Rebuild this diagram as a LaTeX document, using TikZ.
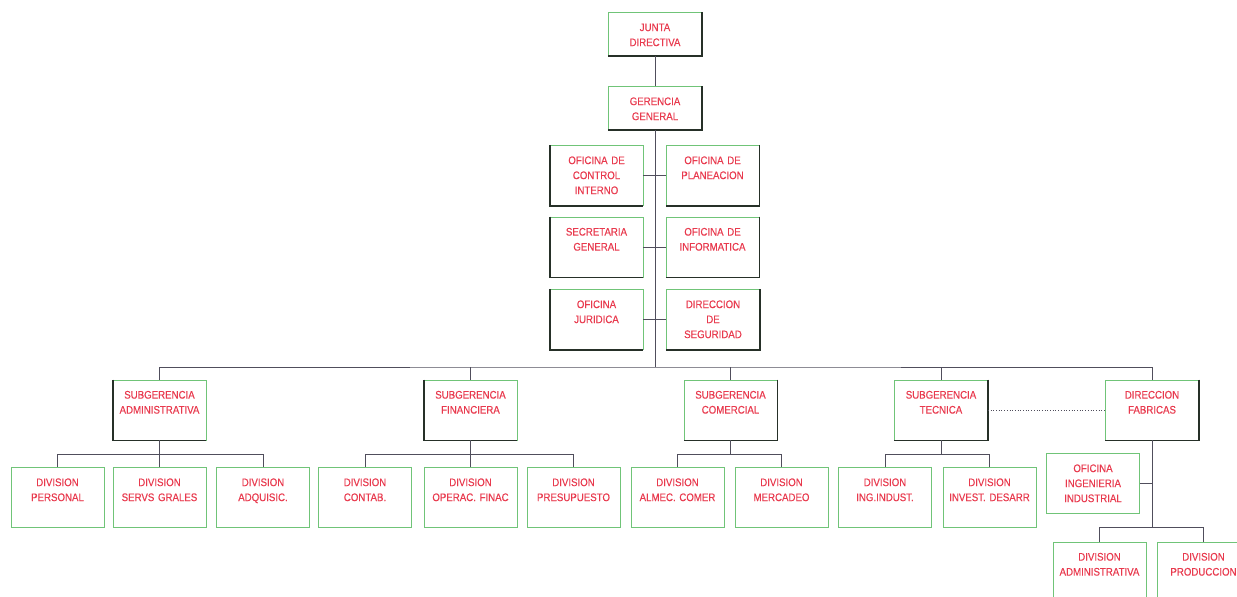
\documentclass[tikz,border=0pt]{standalone}
\usepackage{fontspec}
\setmainfont[FakeStretch=0.88,FakeBold=0.4]{Liberation Sans}
\definecolor{rojo}{RGB}{232,58,78}
\definecolor{verde}{RGB}{112,196,120}
\definecolor{sombra}{RGB}{38,48,40}
\definecolor{linea}{RGB}{80,78,92}
\begin{document}
\begin{tikzpicture}[x=1pt,y=-1pt,
    every node/.style = {shape=rectangle, draw=verde, line width=0.8pt,
      text=rojo, font=\fontsize{11}{15}\selectfont,
      text width=89pt, align=center,
      inner xsep=2pt, inner ysep=4pt, text height=14.6pt},
    unidad/.style = {text depth=37.4pt},
    mando/.style = {text depth=20.4pt},
    enlace/.style = {draw=linea, line width=0.7pt},
    borde/.style = {draw=sombra, line width=1.8pt}]
  \useasboundingbox (0,0) rectangle (1237,597);
  \clip (0,0) rectangle (1237,597);
    \node[mando] (jd) at (655,34) {JUNTA\\DIRECTIVA};
    \node[mando] (gg) at (655,108) {GERENCIA\\GENERAL};
    \node[unidad] (oci) at (596.5,175.5) {OFICINA DE\\CONTROL\\INTERNO};
    \node[unidad] (opl) at (712.5,175.5) {OFICINA DE\\PLANEACION};
    \node[unidad] (sg) at (596.5,247) {SECRETARIA\\GENERAL};
    \node[unidad] (oin) at (712.5,247) {OFICINA DE\\INFORMATICA};
    \node[unidad] (oj) at (596.5,319.5) {OFICINA\\JURIDICA};
    \node[unidad] (ds) at (713,319.5) {DIRECCION\\DE\\SEGURIDAD};

    \node[unidad] (sa) at (159.5,410) {SUBGERENCIA\\ADMINISTRATIVA};
    \node[unidad] (sf) at (470.5,410) {SUBGERENCIA\\FINANCIERA};
    \node[unidad] (sc) at (730.5,410) {SUBGERENCIA\\COMERCIAL};
    \node[unidad] (st) at (941,410) {SUBGERENCIA\\TECNICA};
    \node[unidad] (df) at (1152,410) {DIRECCION\\FABRICAS};

    \node[unidad] (dp) at (57.5,497.5) {DIVISION\\PERSONAL};
    \node[unidad] (dsg) at (159.5,497.5) {DIVISION\\SERVS GRALES};
    \node[unidad] (dad) at (263,497.5) {DIVISION\\ADQUISIC.};
    \node[unidad] (dco) at (365,497.5) {DIVISION\\CONTAB.};
    \node[unidad] (dof) at (470.5,497.5) {DIVISION\\OPERAC. FINAC};
    \node[unidad] (dpr) at (573.5,497.5) {DIVISION\\PRESUPUESTO};
    \node[unidad] (dal) at (677.5,497.5) {DIVISION\\ALMEC. COMER};
    \node[unidad] (dme) at (781.5,497.5) {DIVISION\\MERCADEO};
    \node[unidad] (dii) at (885,497.5) {DIVISION\\ING.INDUST.};
    \node[unidad] (die) at (989.5,497.5) {DIVISION\\INVEST. DESARR};

    \node[unidad] (oii) at (1093,483.5) {OFICINA\\INGENIERIA\\INDUSTRIAL};
    \node[unidad] (dda) at (1099.5,572) {DIVISION\\ADMINISTRATIVA};
    \node[unidad] (dpn) at (1203.5,572) {DIVISION\\PRODUCCION};

    \foreach \n in {jd,gg,opl,oin,ds,sc,st,df}
      \draw[borde] (\n.north east) -- (\n.south east) -- (\n.south west);
    \foreach \n in {oci,sg,oj,sa,sf}
      \draw[borde] (\n.north west) -- (\n.south west) -- (\n.south east);

    \coordinate (bus) at (655,367);
    \draw[enlace] (jd) -- (gg);
    \draw[enlace] (gg.south) -- (bus);
    \draw[enlace] (oci.east) -- (opl.west);
    \draw[enlace] (sg.east) -- (oin.west);
    \draw[enlace] (oj.east) -- (ds.west);
    \draw[enlace] (sa.north) |- (bus) -| (df.north);
    \foreach \n in {sf,sc,st}
      \draw[enlace] (\n.north) -- (\n.north |- bus);
    \foreach \s/\h in {sa/dp,sa/dsg,sa/dad,sf/dco,sf/dof,sf/dpr,
        sc/dal,sc/dme,st/dii,st/die}
      \draw[enlace] (\s.south) -- ++(0,14) -| (\h.north);
    \draw[enlace, dotted] (st.east) -- (df.west);
    \draw[enlace] (df.south) -- ++(0,87) coordinate (bf);
    \foreach \h in {dda,dpn}
      \draw[enlace] (bf) -| (\h.north);
    \draw[enlace] (oii.east) -- (oii.east -| bf);
\end{tikzpicture}
\end{document}
